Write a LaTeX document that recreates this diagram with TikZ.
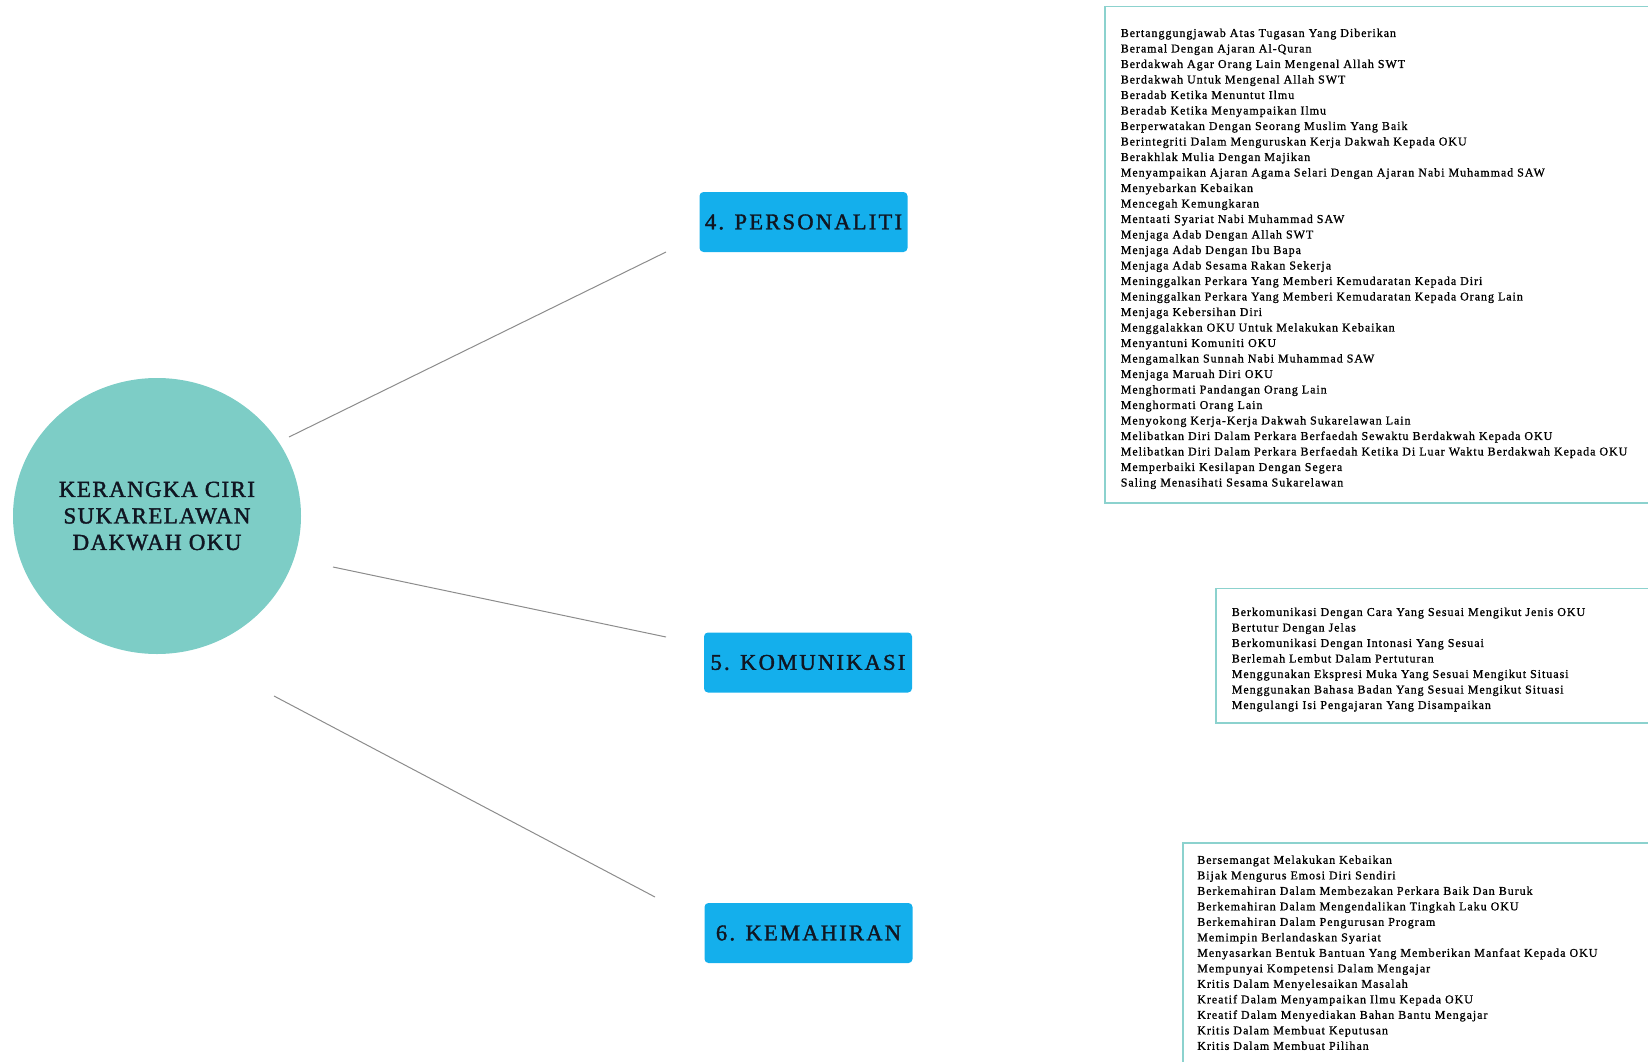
\documentclass[tikz,border=0pt]{standalone}
\usepackage{fontspec}
\usetikzlibrary{shapes.geometric}
\setmainfont{Liberation Serif}
\newfontfamily\itemfont[LetterSpace=8,FakeBold=1]{Liberation Serif}
\newfontfamily\capfont[LetterSpace=10,FakeBold=1.6]{Liberation Serif}
\newfontfamily\rootfont[LetterSpace=6,FakeBold=1.6]{Liberation Serif}
\definecolor{rootteal}{RGB}{125,205,198}
\definecolor{headblue}{RGB}{20,175,236}
\definecolor{listedge}{RGB}{140,210,206}
\definecolor{linkgrey}{RGB}{140,140,140}
\definecolor{inkdark}{RGB}{16,22,34}

\begin{document}
\begin{tikzpicture}[x=1pt,y=-1pt]
    \tikzstyle{every node}+=[inner sep=0pt]
    \tikzstyle{headbox}=[rectangle, rounded corners=4pt, fill=headblue, minimum width=208pt, minimum height=60pt, text=inkdark, font=\capfont\fontsize{22.5}{26}\selectfont]
    \tikzstyle{listbox}=[rectangle, draw=listedge, line width=1.5pt, anchor=north west, align=left, inner xsep=16pt, text width=600pt, text=black, font=\itemfont\fontsize{12}{15.5}\selectfont]
    \tikzstyle{link}=[draw=linkgrey, line width=1pt]
    \useasboundingbox (0,0) rectangle (1648,1062);
    \clip (0,0) rectangle (1648,1062);
    \node [ellipse, fill=rootteal, minimum width=288pt, minimum height=276pt, align=center, text=inkdark, font=\rootfont\fontsize{23}{26.5}\selectfont] (root) at (157,516) {KERANGKA CIRI\\SUKARELAWAN\\DAKWAH OKU};
    \node [headbox] (personaliti) at (803.5,222) {4. PERSONALITI};
    \node [headbox] (komunikasi) at (808,662.5) {5. KOMUNIKASI};
    \node [headbox] (kemahiran) at (808.5,933) {6. KEMAHIRAN};
    \node [listbox, minimum height=496pt] (listpersonaliti) at (1104,6) {\rule{0pt}{16.5pt}Bertanggungjawab Atas Tugasan Yang Diberikan\\Beramal Dengan Ajaran Al-Quran\\Berdakwah Agar Orang Lain Mengenal Allah SWT\\Berdakwah Untuk Mengenal Allah SWT\\Beradab Ketika Menuntut Ilmu\\Beradab Ketika Menyampaikan Ilmu\\Berperwatakan Dengan Seorang Muslim Yang Baik\\Berintegriti Dalam Menguruskan Kerja Dakwah Kepada OKU\\Berakhlak Mulia Dengan Majikan\\Menyampaikan Ajaran Agama Selari Dengan Ajaran Nabi Muhammad SAW\\Menyebarkan Kebaikan\\Mencegah Kemungkaran\\Mentaati Syariat Nabi Muhammad SAW\\Menjaga Adab Dengan Allah SWT\\Menjaga Adab Dengan Ibu Bapa\\Menjaga Adab Sesama Rakan Sekerja\\Meninggalkan Perkara Yang Memberi Kemudaratan Kepada Diri\\Meninggalkan Perkara Yang Memberi Kemudaratan Kepada Orang Lain\\Menjaga Kebersihan Diri\\Menggalakkan OKU Untuk Melakukan Kebaikan\\Menyantuni Komuniti OKU\\Mengamalkan Sunnah Nabi Muhammad SAW\\Menjaga Maruah Diri OKU\\Menghormati Pandangan Orang Lain\\Menghormati Orang Lain\\Menyokong Kerja-Kerja Dakwah Sukarelawan Lain\\Melibatkan Diri Dalam Perkara Berfaedah Sewaktu Berdakwah Kepada OKU\\Melibatkan Diri Dalam Perkara Berfaedah Ketika Di Luar Waktu Berdakwah Kepada OKU\\Memperbaiki Kesilapan Dengan Segera\\Saling Menasihati Sesama Sukarelawan};
    \node [listbox, minimum height=134.5pt] (listkomunikasi) at (1215,587.5) {\rule{0pt}{16.5pt}Berkomunikasi Dengan Cara Yang Sesuai Mengikut Jenis OKU\\Bertutur Dengan Jelas\\Berkomunikasi Dengan Intonasi Yang Sesuai\\Berlemah Lembut Dalam Pertuturan\\Menggunakan Ekspresi Muka Yang Sesuai Mengikut Situasi\\Menggunakan Bahasa Badan Yang Sesuai Mengikut Situasi\\Mengulangi Isi Pengajaran Yang Disampaikan};
    \node [listbox, minimum height=220pt, inner xsep=14.5pt] (listkemahiran) at (1182,842) {Bersemangat Melakukan Kebaikan\\Bijak Mengurus Emosi Diri Sendiri\\Berkemahiran Dalam Membezakan Perkara Baik Dan Buruk\\Berkemahiran Dalam Mengendalikan Tingkah Laku OKU\\Berkemahiran Dalam Pengurusan Program\\Memimpin Berlandaskan Syariat\\Menyasarkan Bentuk Bantuan Yang Memberikan Manfaat Kepada OKU\\Mempunyai Kompetensi Dalam Mengajar\\Kritis Dalam Menyelesaikan Masalah\\Kreatif Dalam Menyampaikan Ilmu Kepada OKU\\Kreatif Dalam Menyediakan Bahan Bantu Mengajar\\Kritis Dalam Membuat Keputusan\\Kritis Dalam Membuat Pilihan};
    \coordinate (from4) at (289,437);
    \coordinate (to4) at (666,252);
    \coordinate (from5) at (333,567);
    \coordinate (to5) at (666,637);
    \coordinate (from6) at (274,696);
    \coordinate (to6) at (655,897);
    \draw [link] (from4) -- (to4);
    \draw [link] (from5) -- (to5);
    \draw [link] (from6) -- (to6);
\end{tikzpicture}
\end{document}
